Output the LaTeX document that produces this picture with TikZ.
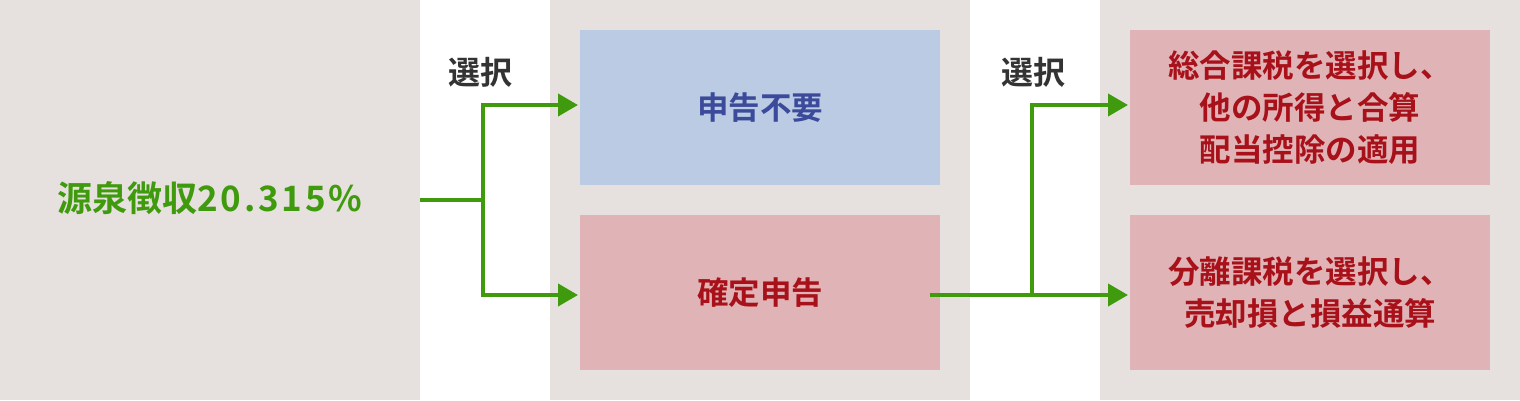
\documentclass[tikz,border=0pt]{standalone}
\usepackage{fontspec}
\setmainfont{Noto Sans CJK JP}[BoldFont={* Bold}]
\usetikzlibrary{arrows.meta}
\definecolor{bggray}{HTML}{E6E1DE}
\definecolor{bxblue}{HTML}{BACBE3}
\definecolor{bxpink}{HTML}{E0B4B6}
\definecolor{grn}{HTML}{3F9A0D}
\definecolor{txblue}{HTML}{3B4A9A}
\definecolor{txred}{HTML}{A8111A}
\definecolor{txgray}{HTML}{333333}
\begin{document}
\begin{tikzpicture}[x=1pt,y=-1pt,
  panel/.style={fill=bggray,draw=none},
  box/.style={draw=none,minimum width=360pt,minimum height=155pt,anchor=north west,align=center,font=\fontsize{31.5}{42}\selectfont\bfseries},
  conn/.style={draw=grn,line width=4pt},
  arr/.style={conn,-{Triangle[length=20pt,width=22pt]}},
  lbl/.style={font=\fontsize{32}{34}\selectfont\bfseries,text=txgray}]
\useasboundingbox (0,0) rectangle (1520,400);
\fill[white] (0,0) rectangle (1520,400);
\fill[panel] (0,0) rectangle (420,400);
\fill[panel] (550,0) rectangle (970,400);
\fill[panel] (1100,0) rectangle (1520,400);
\node[box,fill=bxblue,text=txblue] (b1) at (580,30) {申告不要};
\node[box,fill=bxpink,text=txred] (b2) at (580,215) {確定申告};
\node[box,fill=bxpink,text=txred] (b3) at (1130,30) {総合課税を選択し、\\他の所得と合算\\配当控除の適用};
\node[box,fill=bxpink,text=txred] (b4) at (1130,215) {分離課税を選択し、\\売却損と損益通算};
\node[font=\fontsize{35}{38}\selectfont\bfseries,text=grn] (src) at (210,198) {源泉徴収{\addfontfeature{LetterSpace=8}20.315\%}};
\node[lbl] (l1) at (480,72) {選択};
\node[lbl] (l2) at (1033,72) {選択};
\coordinate (s) at (420,200);
\coordinate (j1) at (483,200);
\coordinate (j2) at (930,295);
\coordinate (j3) at (1032,295);
\coordinate (e3) at (1128,105);
\coordinate (e4) at (1128,295);
\coordinate (e1) at (578,105);
\coordinate (e2) at (578,295);
\draw[conn] (s) -- (j1);
\draw[arr] (j1) |- (e1);
\draw[arr] (j1) |- (e2);
\draw[arr] (j2) -- (e4);
\draw[arr] (j3) |- (e3);
\draw[conn] (j3) -- ++(18,0);
\end{tikzpicture}
\end{document}
